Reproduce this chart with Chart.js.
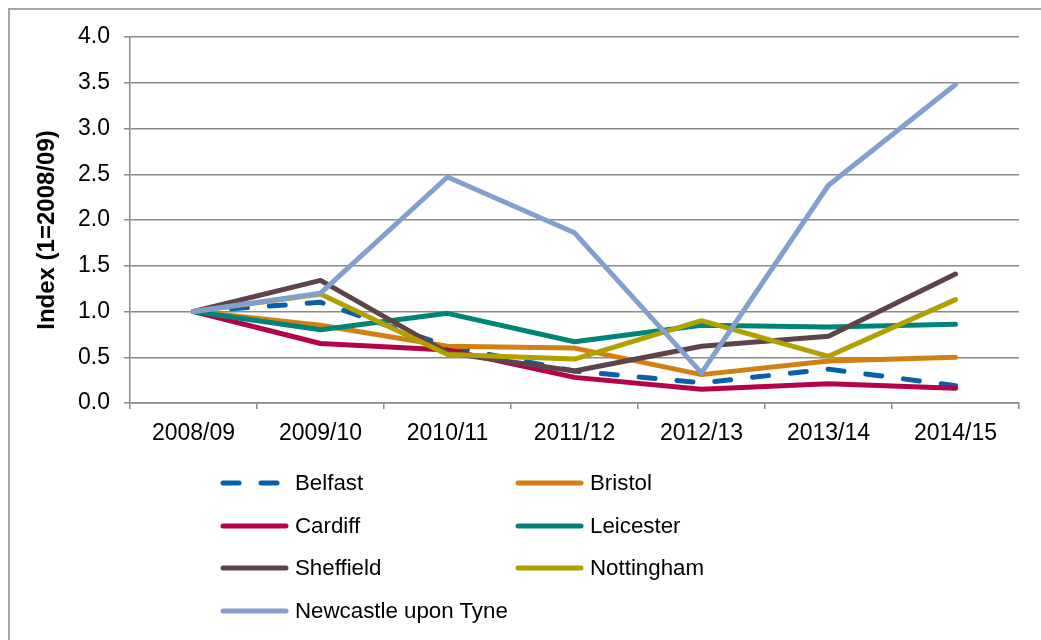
<!DOCTYPE html>
<html><head><meta charset="utf-8">
<script src="https://cdn.jsdelivr.net/npm/chart.js@4.4.1/dist/chart.umd.min.js"></script>
<style>
html,body{margin:0;padding:0;background:#fff;}
#wrap{position:relative;width:1041px;height:640px;overflow:hidden;font-family:"Liberation Sans",Arial,sans-serif;background:#fff;}
#frame{position:absolute;left:8px;top:8px;width:1100px;height:700px;border-left:2px solid #a6a6a6;border-top:2px solid #a6a6a6;box-sizing:border-box;}
#c{position:absolute;left:0;top:0;}
.item{position:absolute;display:flex;align-items:center;font-size:22.3px;color:#000;height:30px;white-space:nowrap;}
.item svg{margin-right:5px;}
</style></head>
<body>
<div id="wrap">
<div id="frame"></div>
<canvas id="c" width="1041" height="640"></canvas>
<div id="legend"></div>
</div>
<script>
const categories = ['2008/09','2009/10','2010/11','2011/12','2012/13','2013/14','2014/15'];
const belfast    = [1.00, 1.10, 0.62, 0.35, 0.22, 0.37, 0.19];
const bristol    = [1.00, 0.85, 0.62, 0.60, 0.31, 0.46, 0.50];
const cardiff    = [1.00, 0.65, 0.58, 0.28, 0.15, 0.21, 0.16];
const leicester  = [1.00, 0.80, 0.98, 0.67, 0.85, 0.83, 0.86];
const sheffield  = [1.00, 1.34, 0.55, 0.35, 0.62, 0.73, 1.41];
const nottingham = [1.00, 1.19, 0.53, 0.48, 0.90, 0.51, 1.13];
const newcastle  = [1.00, 1.20, 2.47, 1.86, 0.33, 2.38, 3.48];
const seriesNames = ['Belfast','Bristol','Cardiff','Leicester','Sheffield','Nottingham','Newcastle upon Tyne'];
const seriesData = [belfast, bristol, cardiff, leicester, sheffield, nottingham, newcastle];
const seriesColors = ['#0860A8','#D38013','#B5034A','#008478','#5E434B','#B0A000','#829FCD'];
const yTitle = 'Index (1=2008/09)';

const grid = '#8a8a8a';
const FONT = '"Liberation Sans", Arial, sans-serif';
const datasets = seriesNames.map((n,i)=>({
  label:n, data:seriesData[i], borderColor:seriesColors[i], backgroundColor:seriesColors[i],
  borderWidth:5, pointRadius:0, pointHoverRadius:0, tension:0,
  borderCapStyle:'round', borderJoinStyle:'round',
  borderDash: i===0 ? [16,22] : [],
  order: seriesNames.length - i
}));

const yTitlePlugin = {
  id:'yTitlePlugin',
  afterDraw(chart){
    const ctx = chart.ctx;
    ctx.save();
    ctx.translate(47, 230);
    ctx.rotate(-Math.PI/2);
    ctx.font = 'bold 24px ' + FONT;
    ctx.fillStyle = '#000';
    ctx.textAlign = 'center';
    ctx.textBaseline = 'middle';
    ctx.fillText(yTitle, 0, 0);
    ctx.restore();
  }
};

new Chart(document.getElementById('c'), {
  type:'line',
  data:{labels:categories, datasets},
  options:{
    responsive:false, animation:false,
    layout:{padding:{left:10, right:22, top:37, bottom:187}},
    plugins:{legend:{display:false}, tooltip:{enabled:false}},
    scales:{
      x:{
        offset:true,
        grid:{display:true, drawOnChartArea:false, drawTicks:true, tickLength:6, color:grid, lineWidth:1.5, offset:true},
        border:{display:true, color:grid, width:1.5},
        ticks:{color:'#000', font:{family:FONT, size:23}, padding:11, maxRotation:0, autoSkip:false},
        afterFit:(s)=>{ s.height = 50; }
      },
      y:{
        min:0, max:4,
        grid:{color:grid, lineWidth:1.5, drawTicks:true, tickLength:6},
        border:{display:true, color:grid, width:1.5},
        ticks:{stepSize:0.5, color:'#000', padding:14, font:{family:FONT, size:23},
               callback:(v)=>Number(v).toFixed(1)},
        afterFit:(s)=>{ s.width = 120; }
      }
    }
  },
  plugins:[yTitlePlugin]
});

// legend
const legendPos = [[220,483],[515,483],[220,526],[515,526],[220,568],[515,568],[220,611]];
const lg = document.getElementById('legend');
seriesNames.forEach((n,i)=>{
  const d = document.createElement('div');
  d.className='item';
  d.style.left = legendPos[i][0]+'px';
  d.style.top = (legendPos[i][1]-15)+'px';
  const dash = i===0 ? 'stroke-dasharray="16 22"' : '';
  d.innerHTML = '<svg width="70" height="10"><line x1="3" y1="5" x2="66" y2="5" stroke="'+seriesColors[i]+'" stroke-width="5" stroke-linecap="round" '+dash+'/></svg><span>'+n+'</span>';
  lg.appendChild(d);
});
</script>
</body></html>
